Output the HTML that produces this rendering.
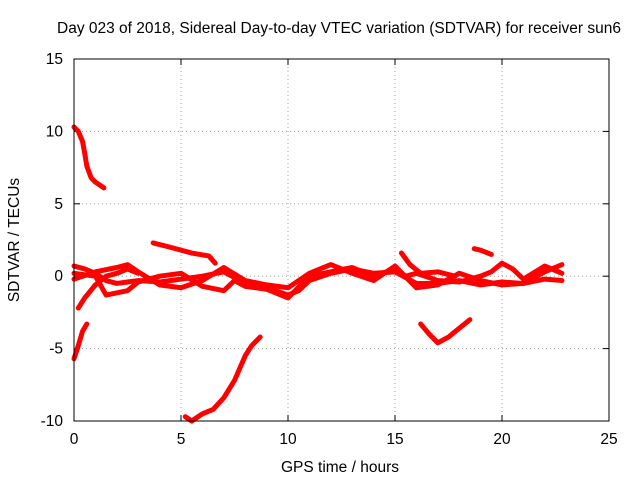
<!DOCTYPE html>
<html><head><meta charset="utf-8"><style>
body{margin:0;background:#fff;}
svg{display:block;font-family:"Liberation Sans",sans-serif;}
</style></head><body>
<svg id="chart" width="640" height="480" viewBox="0 0 640 480">
<rect width="640" height="480" fill="#fff"/>
<text x="339" y="33" font-size="15.5" text-anchor="middle">Day 023 of 2018, Sidereal Day-to-day VTEC variation (SDTVAR) for receiver sun6</text>
<text x="340" y="472" font-size="15.5" text-anchor="middle">GPS time / hours</text>
<text transform="translate(19,240) rotate(-90)" font-size="15.5" text-anchor="middle">SDTVAR / TECUs</text>
<g id="grid"></g><g id="ticks"></g><g id="series"></g>
<rect x="74" y="59" width="535" height="362" fill="none" stroke="#000" stroke-width="1"/>
</svg>
<script>
const xTicks=[0,5,10,15,20,25];
const yTicks=[-10,-5,0,5,10,15];
const track1=[[0,10.3],[0.2,10],[0.4,9.3],[0.5,8.5],[0.6,7.6],[0.8,6.8],[1.0,6.5],[1.4,6.1]];
const track2=[[0,-5.7],[0.2,-4.8],[0.4,-3.8],[0.6,-3.3]];
const track3=[[0.2,-2.2],[0.5,-1.5],[1.0,-0.6],[1.5,0],[2.0,0.2],[2.5,0.5],[3,0.2]];
const track4=[[5.2,-9.7],[5.5,-10],[6,-9.5],[6.5,-9.2],[7,-8.4],[7.5,-7.2],[8,-5.5],[8.3,-4.8],[8.7,-4.2]];
const track5=[[3.7,2.3],[4.5,2.0],[5.5,1.6],[6.3,1.4],[6.6,0.9]];
const track6=[[16.2,-3.3],[16.6,-4],[17,-4.6],[17.5,-4.2],[18,-3.6],[18.5,-3.0]];
const track7=[[15.3,1.6],[15.7,0.8],[16.2,0.2],[17,0.3],[17.8,0]];
const track8=[[18.7,1.9],[19,1.8],[19.5,1.5]];
const trackA=[[0,0.7],[0.5,0.5],[1,0.2],[1.5,-0.3],[2,-0.5],[3,-0.3],[4,-0.4],[5,-0.2],[6,0],[7,0.3],[8,-0.5],[9,-0.8],[10,-1.3],[10.5,-1],[11,-0.3],[12,0.2],[13,0.5],[14,0.2],[15,0.3],[16,-0.5],[17,-0.5],[18,-0.3],[19,-0.6],[20,-0.4],[21,-0.5],[22,0.3],[22.8,0.8]];
const trackB=[[0,0.2],[1,0],[1.5,-1.3],[2.5,-1],[3,-0.4],[4,0],[5,0.2],[6,-0.7],[7,-1],[7.5,-0.3],[8,-0.7],[9,-0.9],[10,-1.5],[11,0],[12,0.3],[13,0.6],[14,0],[15,0.5],[15.5,0],[16,0.2],[17,-0.3],[18,-0.4],[19,0],[19.5,0.3],[20,0.9],[20.5,0.5],[21,-0.2],[22,0.7],[22.8,0.2]];
const trackC=[[0,-0.2],[1,0.3],[2,0.6],[2.5,0.8],[3,0.3],[4,-0.6],[5,-0.8],[6,-0.3],[7,0.6],[8,-0.3],[9,-0.6],[10,-0.8],[11,0.2],[12,0.8],[13,0.2],[14,-0.3],[15,0.7],[16,-0.8],[17,-0.6],[18,0.2],[19,-0.3],[20,-0.6],[21,-0.5],[22,-0.2],[22.8,-0.3]];
const tracks=[track1,track2,track3,track4,track5,track6,track7,track8,trackA,trackB,trackC];

const NS="http://www.w3.org/2000/svg";
const X0=74,X1=609,Y0=421,Y1=59;
function xs(v){return X0+(v-0)/(25-0)*(X1-X0);}
function ys(v){return Y0-(v+10)/(15+10)*(Y0-Y1);}
function mk(t,a){const e=document.createElementNS(NS,t);for(const k in a)e.setAttribute(k,a[k]);return e;}
const grid=document.getElementById('grid'),ticks=document.getElementById('ticks'),ser=document.getElementById('series');
xTicks.forEach(v=>{const x=xs(v);
 if(v>0&&v<25){const g=mk('line',{x1:x,x2:x,y1:Y1,y2:Y0,stroke:'#a0a0a0','stroke-dasharray':'1,3'});
 
 grid.appendChild(g);}
 ticks.appendChild(mk('line',{x1:x,x2:x,y1:Y0,y2:Y0-6,stroke:'#000'}));
 ticks.appendChild(mk('line',{x1:x,x2:x,y1:Y1,y2:Y1+6,stroke:'#000'}));
 const t=mk('text',{x:x,y:444,'font-size':15.5,'text-anchor':'middle'});t.textContent=v;
 
 ticks.appendChild(t);});
yTicks.forEach(v=>{const y=ys(v);
 if(v>-10&&v<15){const g=mk('line',{x1:X0,x2:X1,y1:y,y2:y,stroke:'#a0a0a0','stroke-dasharray':'1,3'});
 
 grid.appendChild(g);}
 ticks.appendChild(mk('line',{x1:X0,x2:X0+6,y1:y,y2:y,stroke:'#000'}));
 ticks.appendChild(mk('line',{x1:X1,x2:X1-6,y1:y,y2:y,stroke:'#000'}));
 const t=mk('text',{x:63,y:y+5,'font-size':15.5,'text-anchor':'end'});t.textContent=v;
 
 ticks.appendChild(t);});
tracks.forEach((tr,i)=>{
 const p=mk('polyline',{points:tr.map(d=>xs(d[0])+','+ys(d[1])).join(' '),fill:'none',stroke:'#ff0000','stroke-width':5,'stroke-linejoin':'round','stroke-linecap':'round'});
 
 ser.appendChild(p);});
</script>
</body></html>
